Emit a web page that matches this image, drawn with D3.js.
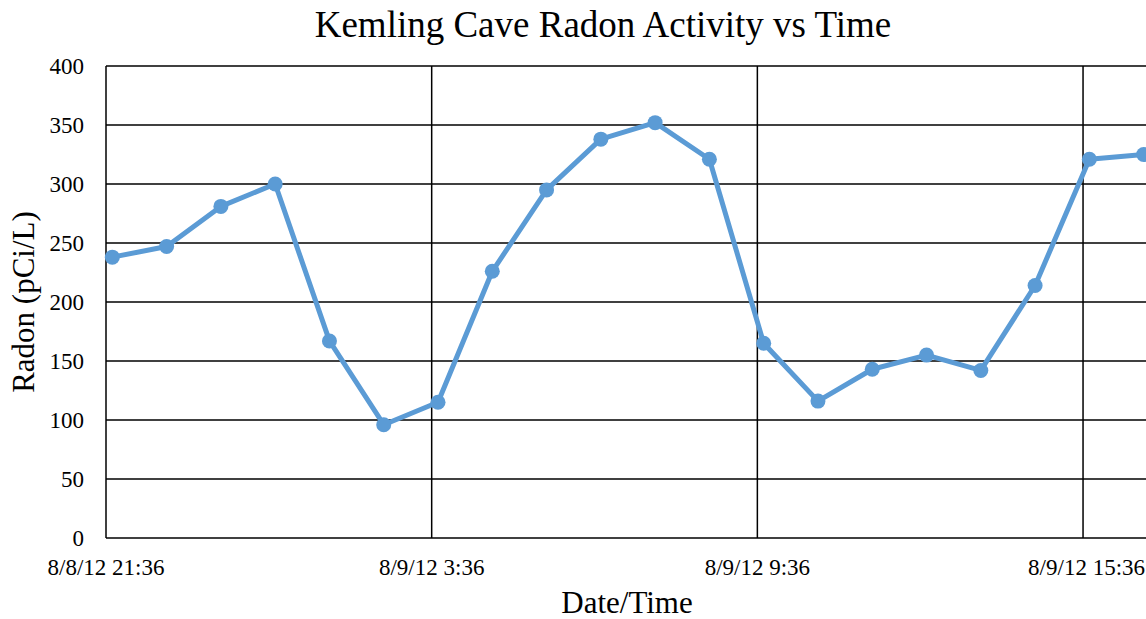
<!DOCTYPE html>
<html>
<head>
<meta charset="utf-8">
<script src="https://cdn.jsdelivr.net/npm/d3@7"></script>
<style>
  body { margin: 0; background: #fff; }
  svg { display: block; font-family: "Liberation Serif", "Times New Roman", serif; }
</style>
</head>
<body>
<div id="chart"></div>
<script>
// readings, one per hour
const times = [
  "2012-08-08 21:43", "2012-08-08 22:43", "2012-08-08 23:43", "2012-08-09 00:43",
  "2012-08-09 01:43", "2012-08-09 02:43", "2012-08-09 03:43", "2012-08-09 04:43",
  "2012-08-09 05:43", "2012-08-09 06:43", "2012-08-09 07:43", "2012-08-09 08:43",
  "2012-08-09 09:43", "2012-08-09 10:43", "2012-08-09 11:43", "2012-08-09 12:43",
  "2012-08-09 13:43", "2012-08-09 14:43", "2012-08-09 15:43", "2012-08-09 16:43"
];
const radon = [238, 247, 281, 300, 167, 96, 115, 226, 295, 338, 352, 321, 165, 116, 143, 155, 142, 214, 321, 325];
const yTicks = [0, 50, 100, 150, 200, 250, 300, 350, 400];
const xTickTimes = ["2012-08-08 21:36", "2012-08-09 03:36", "2012-08-09 09:36", "2012-08-09 15:36"];
const xStart = "2012-08-08 21:36";
const xEnd = "2012-08-09 21:36";

const width = 1146, height = 619;
const margin = { top: 66, left: 106, bottom: 81 };
const parse = d3.timeParse("%Y-%m-%d %H:%M");
const fmt = d3.timeFormat("%-m/%-d/%y %-H:%M");

const data = times.map((t, i) => ({ t: parse(t), v: radon[i] }));
const xTicks = xTickTimes.map(parse);

const svg = d3.select("#chart").append("svg")
  .attr("width", width)
  .attr("height", height);

// 6 hour gridlines, plot runs off past the right edge
const x = d3.scaleTime()
  .domain([parse(xStart), parse(xEnd)])
  .range([margin.left, margin.left + 24 * 54.28]);

const y = d3.scaleLinear()
  .domain([0, 400])
  .range([height - margin.bottom, margin.top]);

// horizontal grid
svg.append("g").selectAll("line")
  .data(yTicks)
  .join("line")
  .attr("x1", margin.left).attr("x2", width)
  .attr("y1", d => y(d)).attr("y2", d => y(d))
  .attr("stroke", "#000").attr("stroke-width", 1.5);

// vertical grid
svg.append("g").selectAll("line")
  .data(xTicks)
  .join("line")
  .attr("x1", d => x(d)).attr("x2", d => x(d))
  .attr("y1", y(400)).attr("y2", y(0))
  .attr("stroke", "#000").attr("stroke-width", 1.5);

// y tick labels
svg.append("g").selectAll("text")
  .data(yTicks)
  .join("text")
  .attr("x", margin.left - 22)
  .attr("y", d => y(d))
  .attr("dy", "0.35em")
  .attr("text-anchor", "end")
  .attr("font-size", 23)
  .text(d => d);

// x tick labels
svg.append("g").selectAll("text")
  .data(xTicks)
  .join("text")
  .attr("x", d => x(d))
  .attr("y", y(0) + 37)
  .attr("text-anchor", (d, i) => i === xTicks.length - 1 ? "end" : "middle")
  .attr("dx", (d, i) => i === xTicks.length - 1 ? 62 : 0)
  .attr("font-size", 23)
  .text(d => fmt(d));

// series
const line = d3.line().x(d => x(d.t)).y(d => y(d.v));
svg.append("path")
  .datum(data)
  .attr("d", line)
  .attr("fill", "none")
  .attr("stroke", "#5b9bd5")
  .attr("stroke-width", 5)
  .attr("stroke-linejoin", "round");

svg.append("g").selectAll("circle")
  .data(data)
  .join("circle")
  .attr("cx", d => x(d.t))
  .attr("cy", d => y(d.v))
  .attr("r", 7.5)
  .attr("fill", "#5b9bd5");

// titles
svg.append("text")
  .attr("x", 603).attr("y", 37)
  .attr("text-anchor", "middle")
  .attr("font-size", 37)
  .text("Kemling Cave Radon Activity vs Time");

svg.append("text")
  .attr("x", 627).attr("y", 613)
  .attr("text-anchor", "middle")
  .attr("font-size", 31)
  .text("Date/Time");

svg.append("text")
  .attr("transform", `translate(34,${(y(0) + y(400)) / 2}) rotate(-90)`)
  .attr("text-anchor", "middle")
  .attr("font-size", 31)
  .text("Radon (pCi/L)");
</script>
</body>
</html>
